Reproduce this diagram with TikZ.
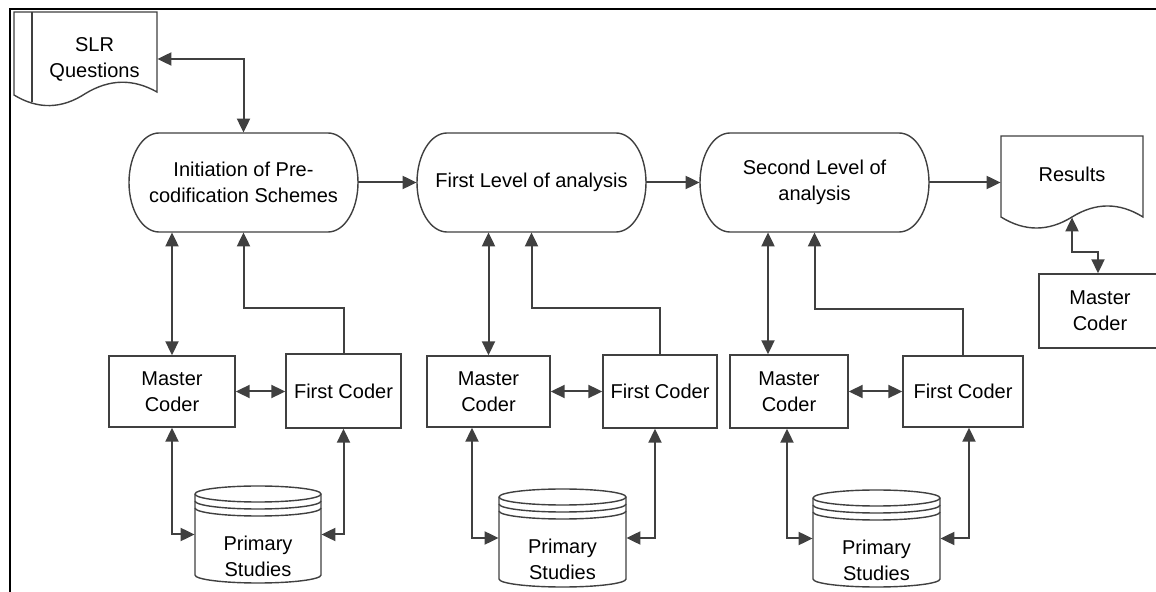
\documentclass[tikz,border=0pt]{standalone}
\usepackage{fontspec}
\setmainfont{Liberation Sans}
\usetikzlibrary{arrows.meta,calc}
\definecolor{ln}{HTML}{404040}
\newcommand\lblfont{\fontsize{10}{13}\selectfont}
% pill (terminator) shape: left right top bottom (pixel units)
\newcommand\pillshape[4]{%
  \draw[outline] ({#1+30},#3) -- ({#2-30},#3)
    arc[start angle=90,end angle=-90,x radius=15pt,y radius=24.75pt]
    -- ({#1+30},#4)
    arc[start angle=270,end angle=90,x radius=15pt,y radius=24.75pt] -- cycle;}
% cylinder (database) shape: left right top bottom (pixel units)
\newcommand\cylshape[4]{%
  \pgfmathsetmacro\cylrx{(#2-#1)/4}%
  \pgfmathsetmacro\cyltop{#3+8}%
  \pgfmathsetmacro\cylbot{#4-8}%
  \pgfmathsetmacro\cylra{#3+15}%
  \pgfmathsetmacro\cylrb{#3+22}%
  \draw[outline] (#1,\cyltop) -- (#1,\cylbot)
    arc[start angle=180,end angle=360,x radius=\cylrx pt,y radius=4pt]
    -- (#2,\cyltop)
    arc[start angle=0,end angle=180,x radius=\cylrx pt,y radius=4pt] -- cycle;
  \draw[outline,fill=none] (#1,\cyltop) arc[start angle=180,end angle=360,x radius=\cylrx pt,y radius=4pt];
  \draw[outline,fill=none] (#1,\cylra) arc[start angle=180,end angle=360,x radius=\cylrx pt,y radius=4pt];
  \draw[outline,fill=none] (#1,\cylrb) arc[start angle=180,end angle=360,x radius=\cylrx pt,y radius=4pt];}
\begin{document}
\begin{tikzpicture}[x=0.5pt,y=-0.5pt,
  >={Triangle[length=7pt,width=6.5pt]},
  conn/.style={draw=ln,line width=1pt},
  outline/.style={draw=ln,line width=0.7pt,fill=white},
  box/.style={draw=ln,line width=0.7pt,fill=white,rectangle,inner sep=0pt,align=center,font=\lblfont},
  txt/.style={inner sep=0pt,align=center,font=\lblfont},
]
\useasboundingbox (0,0) rectangle (1156,592);
\clip (0,0) rectangle (1156,592);

% ---- shapes drawn directly ----
% SLR Questions document
\draw[outline] (14,12) -- (157,12) -- (157,92)
  .. controls (133,78.5) and (109.5,79) .. (85.5,93.5)
  .. controls (62,109) and (38,109.7) .. (14,95) -- cycle;
\draw[outline] (32,12) -- (32,102);
% Results document
\draw[outline] (1001,136) -- (1143,136) -- (1143,217)
  .. controls (1119.3,202.3) and (1095.7,202.3) .. (1072,217)
  .. controls (1048.3,231.7) and (1024.7,231.7) .. (1001,217) -- cycle;
% pills
\pillshape{129}{358}{133}{232}
\pillshape{417}{646}{133}{232}
\pillshape{700}{929}{133}{232}
% cylinders
\cylshape{195}{321}{486}{583}
\cylshape{499}{626}{489}{587}
\cylshape{813}{940}{490}{587}

% ---- nodes ----
\node[txt,minimum width=62.5pt,minimum height=40pt] (slr) at (94.5,59) {SLR\\Questions};
\node[txt,minimum width=71pt,minimum height=41pt] (res) at (1072,176) {\raisebox{2pt}{Results}};
\node[txt,minimum width=114.5pt,minimum height=49.5pt] (p1) at (243.5,182.5) {Initiation of Pre-\\codification Schemes};
\node[txt,minimum width=114.5pt,minimum height=49.5pt] (p2) at (531.5,182.5) {First Level of analysis};
\node[txt,minimum width=114.5pt,minimum height=49.5pt] (p3) at (814.5,182.5) {Second Level of\\analysis};

\node[box,minimum width=63pt,minimum height=35.5pt] (mc1) at (172,391.5) {Master\\Coder};
\node[box,minimum width=57.5pt,minimum height=37pt] (fc1) at (343.5,391) {First Coder};
\node[box,minimum width=61.5pt,minimum height=35.5pt] (mc2) at (488.5,391.5) {Master\\Coder};
\node[box,minimum width=57pt,minimum height=36.5pt] (fc2) at (660,391.5) {First Coder};
\node[box,minimum width=59pt,minimum height=36.5pt] (mc3) at (789,391.5) {Master\\Coder};
\node[box,minimum width=60pt,minimum height=35.5pt] (fc3) at (963,391.5) {First Coder};
\node[box,minimum width=61pt,minimum height=37pt] (mc4) at (1100,311) {Master\\Coder};

\node[minimum width=63pt,minimum height=48.5pt,inner sep=0pt] (cyl1) at (258,534.5) {};
\node[minimum width=63.5pt,minimum height=49pt,inner sep=0pt] (cyl2) at (562.5,538) {};
\node[minimum width=63.5pt,minimum height=48.5pt,inner sep=0pt] (cyl3) at (876.5,538.5) {};
\node[txt] (cyl1t) at (258,556) {Primary\\Studies};
\node[txt] (cyl2t) at (562.5,559) {Primary\\Studies};
\node[txt] (cyl3t) at (876.5,560) {Primary\\Studies};

% ---- connectors ----
\draw[conn,<->] (p1.north) |- (slr.east);
\draw[conn,->] (p1.east) -- (p2.west);
\draw[conn,->] (p2.east) -- (p3.west);
\draw[conn,->] (p3.east) -- (p3.east -| res.west);
\draw[conn,<->] (res.south) -- ++(0,35) -| ([xshift=-1pt]mc4.north);

% group 1
\draw[conn,<->] (p1.south -| mc1.north) -- (mc1.north);
\draw[conn,->] (fc1.north) |- ($(p1.south)+(0,76)$) -- (p1.south);
\draw[conn,<->] (mc1.east) -- (mc1.east -| fc1.west);
\draw[conn,<->] (mc1.south) |- (cyl1.west);
\draw[conn,<->] (fc1.south) |- (cyl1.east);

% group 2
\draw[conn,<->] (p2.south -| mc2.north) -- (mc2.north);
\draw[conn,->] (fc2.north) |- ($(p2.south)+(0,76)$) -- (p2.south);
\draw[conn,<->] (mc2.east) -- (mc2.east -| fc2.west);
\draw[conn,<->] ([xshift=-8.25pt]mc2.south) |- (cyl2.west);
\draw[conn,<->] ([xshift=-2.5pt]fc2.south) |- (cyl2.east);

% group 3
\draw[conn,<->] ([xshift=-10.5pt]mc3.north |- p3.south) -- ([xshift=-10.5pt]mc3.north);
\draw[conn,->] (fc3.north) |- ($(p3.south)+(0,77)$) -- (p3.south);
\draw[conn,<->] (mc3.east) -- (mc3.east -| fc3.west);
\draw[conn,<->] ([xshift=-1pt]mc3.south) |- (cyl3.west);
\draw[conn,<->] ([xshift=3pt]fc3.south) |- (cyl3.east);

% frame (top and left edges)
\draw[black,line width=1pt] (10,600) -- (10,9) -- (1160,9);
\end{tikzpicture}
\end{document}
